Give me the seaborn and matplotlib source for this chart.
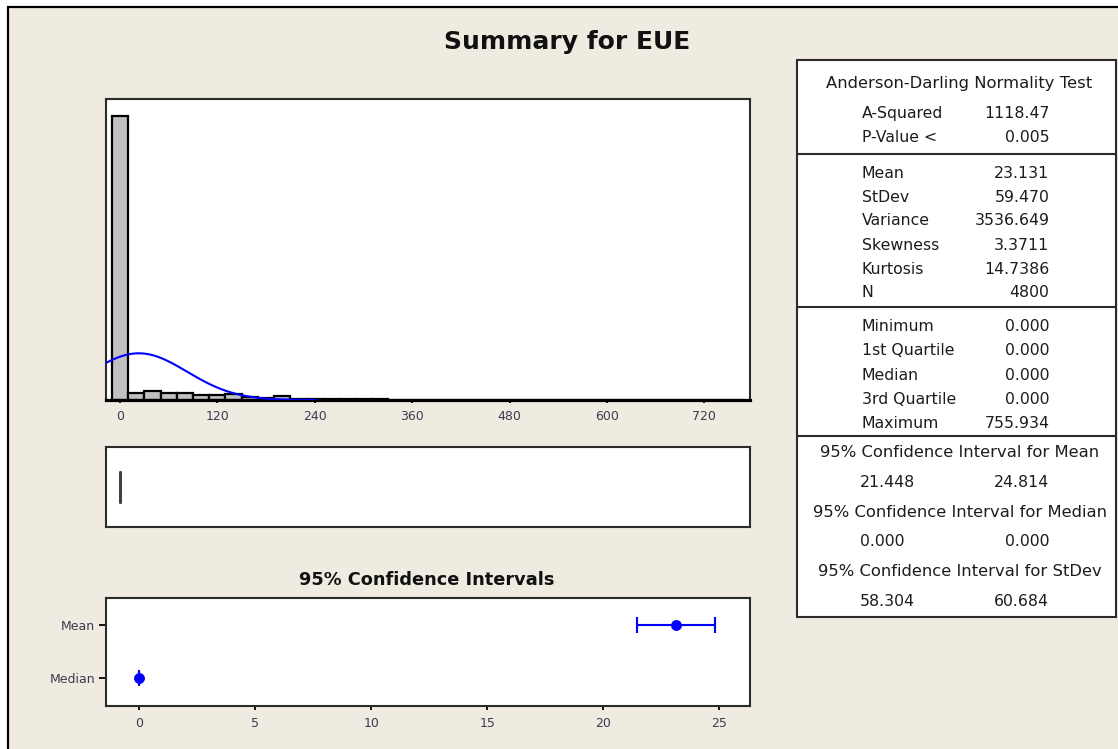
import numpy as np
import pandas as pd
import matplotlib
matplotlib.use("Agg")
import matplotlib.pyplot as plt
import seaborn as sns
from matplotlib.patches import Rectangle

# ---------------------------------------------------------------- data
# histogram of EUE: bin centres (width 20) and counts per bin
bin_centers = [0, 20, 40, 60, 80, 100, 120, 140, 160, 180, 200, 220, 240, 260,
               280, 300, 320, 340, 360, 380, 400, 420, 440, 460, 480, 500, 520,
               540, 560, 580, 600, 620, 640, 660, 680, 700, 720, 740, 760]
bin_counts = [3919, 100, 124, 100, 100, 69, 69, 83, 46, 28, 55, 14, 10, 12,
              8, 9, 7, 6, 6, 5, 4, 4, 3, 3, 2, 2, 2,
              1, 2, 1, 1, 1, 1, 0, 1, 0, 1, 0, 1]
bin_width = 20
hist_ticks = [0, 120, 240, 360, 480, 600, 720]

# descriptive statistics
mean_val = 23.131
stdev_val = 59.470
n_obs = 4800
q1_val, median_val, q3_val = 0.000, 0.000, 0.000

# 95% confidence intervals
ci_labels = ["Mean", "Median"]
ci_estimates = [23.131, 0.000]
ci_lower = [21.448, 0.000]
ci_upper = [24.814, 0.000]
ci_ticks = [0, 5, 10, 15, 20, 25]

# summary table text
ad_title = "Anderson-Darling Normality Test"
ad_labels = ["A-Squared", "P-Value <"]
ad_values = ["1118.47", "0.005"]
moment_labels = ["Mean", "StDev", "Variance", "Skewness", "Kurtosis", "N"]
moment_values = ["23.131", "59.470", "3536.649", "3.3711", "14.7386", "4800"]
order_labels = ["Minimum", "1st Quartile", "Median", "3rd Quartile", "Maximum"]
order_values = ["0.000", "0.000", "0.000", "0.000", "755.934"]
ci_titles = ["95% Confidence Interval for Mean",
             "95% Confidence Interval for Median",
             "95% Confidence Interval for StDev"]
ci_bounds = [("21.448", "24.814"), ("0.000", "0.000"), ("58.304", "60.684")]

# ---------------------------------------------------------------- style
W, H, DPI = 1118, 749, 100
BG = "#EFEBE1"
FRAME = "#2b2b2b"
TICK_TXT = "#3a3c50"
TXT = "#1c1c1c"

sns.set_theme(style="white")
plt.rcParams["font.family"] = ["DejaVu Sans"]

fig = plt.figure(figsize=(W / DPI, H / DPI), dpi=DPI, facecolor="white")


def px_rect(x0, y0, x1, y1):
    """Axes rectangle from pixel corners (origin top-left)."""
    return [x0 / W, 1 - y1 / H, (x1 - x0) / W, (y1 - y0) / H]


def frame(ax, lw=1.5):
    for s in ax.spines.values():
        s.set_visible(True)
        s.set_color(FRAME)
        s.set_linewidth(lw)
    ax.set_facecolor("white")


# background panel in pixel coordinates
bg = fig.add_axes([0, 0, 1, 1], zorder=-10)
bg.set_xlim(0, W)
bg.set_ylim(H, 0)
bg.axis("off")
bg.add_patch(Rectangle((8, 7), W, H, facecolor=BG, edgecolor="black", lw=1.6))

bg.text(567, 42, "Summary for EUE", ha="center", va="center",
        fontsize=18, fontweight="bold", color="#111111")

# ---------------------------------------------------------------- histogram
xlim_h = (-17.6, 776.3)
ax_h = fig.add_axes(px_rect(105.7, 99, 750, 400))
hist_df = pd.DataFrame({"EUE": bin_centers, "count": bin_counts})
edges = [c - bin_width / 2 for c in bin_centers] + [bin_centers[-1] + bin_width / 2]
sns.histplot(data=hist_df, x="EUE", weights="count", bins=edges,
             color="#C0C0C0", edgecolor="black", linewidth=1.6, alpha=1,
             ax=ax_h)

# fitted normal curve
xs = np.linspace(xlim_h[0], 242, 300)
pdf = n_obs * bin_width / (stdev_val * np.sqrt(2 * np.pi)) * \
    np.exp(-0.5 * ((xs - mean_val) / stdev_val) ** 2)
sns.lineplot(x=xs, y=pdf, color="#0000FF", lw=1.5, ax=ax_h, zorder=5)

ax_h.set_xlim(*xlim_h)
ax_h.set_ylim(0, 4149)
ax_h.set_xlabel("")
ax_h.set_ylabel("")
ax_h.set_yticks([])
ax_h.set_xticks(hist_ticks)
ax_h.set_xticklabels([str(t) for t in hist_ticks])
ax_h.tick_params(axis="x", bottom=True, direction="out", length=2.5, width=1.3,
                 color="black", pad=5, labelsize=9, labelcolor=TICK_TXT)
frame(ax_h)
# the outlines of the near-empty bins merge into a heavy baseline
ax_h.spines["bottom"].set_color("black")
ax_h.spines["bottom"].set_linewidth(2.3)

# ---------------------------------------------------------------- boxplot
ax_b = fig.add_axes(px_rect(105.7, 446.7, 750, 527.3))
box_stats = [{"med": median_val, "q1": q1_val, "q3": q3_val,
              "whislo": q1_val, "whishi": q3_val}]
box_kw = dict(positions=[0], widths=0.6, showfliers=False, showcaps=False,
              boxprops=dict(color="#404040", lw=2),
              medianprops=dict(color="#404040", lw=2),
              whiskerprops=dict(color="#404040", lw=2))
try:
    ax_b.bxp(box_stats, orientation="horizontal", **box_kw)
except TypeError:
    ax_b.bxp(box_stats, vert=False, **box_kw)
ax_b.set_xlim(*xlim_h)
ax_b.set_ylim(-0.82, 0.82)
ax_b.set_xticks([])
ax_b.set_yticks([])
frame(ax_b)

# ---------------------------------------------------------------- CI plot
bg.text(427, 580, "95% Confidence Intervals", ha="center", va="center",
        fontsize=12.8, fontweight="bold", color="#111111")

ax_c = fig.add_axes(px_rect(106, 597.7, 750, 706))
ypos = list(range(len(ci_labels)))
err_lo = [e - l for e, l in zip(ci_estimates, ci_lower)]
err_hi = [u - e for e, u in zip(ci_estimates, ci_upper)]
ax_c.errorbar(ci_estimates, ypos, xerr=[err_lo, err_hi], fmt="none",
              ecolor="#0000FF", elinewidth=1.5, capsize=5.8, capthick=1.5)
sns.scatterplot(x=ci_estimates, y=ypos, color="#0000FF", edgecolor="#0000FF",
                s=52, ax=ax_c, zorder=4)
ax_c.set_xlim(-1.435, 26.32)
ax_c.set_ylim(1.52, -0.512)
ax_c.set_xticks(ci_ticks)
ax_c.set_xticklabels([str(t) for t in ci_ticks])
ax_c.set_yticks(ypos)
ax_c.set_yticklabels(ci_labels)
ax_c.tick_params(axis="x", bottom=True, direction="out", length=3, width=1.3,
                 color="black", pad=5, labelsize=9, labelcolor=TICK_TXT)
ax_c.tick_params(axis="y", left=True, direction="out", length=5, width=1.3,
                 color="black", pad=3, labelsize=9, labelcolor=TICK_TXT)
frame(ax_c)

# ---------------------------------------------------------------- table
tx0, tx1 = 797.3, 1116
bg.add_patch(Rectangle((tx0, 60), tx1 - tx0, 616.7 - 60, facecolor="white",
                       edgecolor=FRAME, lw=1.5, zorder=2))
for ysep in (154, 307.3, 436):
    bg.plot([tx0, tx1], [ysep, ysep], color=FRAME, lw=1.5, zorder=3)

tfs = 11.3
hfs = 11.8
xl, xr, xc = 861.7, 1049.3, 959.5


def row(y, label, value):
    bg.text(xl, y, label, ha="left", va="center", fontsize=tfs, color=TXT, zorder=4)
    bg.text(xr, y, value, ha="right", va="center", fontsize=tfs, color=TXT, zorder=4)


bg.text(xc, 83.3, ad_title, ha="center", va="center", fontsize=hfs, color=TXT, zorder=4)
for y, l, v in zip([113.3, 137.3], ad_labels, ad_values):
    row(y, l, v)
for y, l, v in zip([173.3, 197.7, 220.7, 245, 269.3, 292.3], moment_labels, moment_values):
    row(y, l, v)
for y, l, v in zip([326.7, 350.7, 376, 399.3, 423.3], order_labels, order_values):
    row(y, l, v)
for (yt, yv), title, (lo, hi) in zip([(452.7, 482.7), (512.7, 541), (571.7, 601.7)],
                                     ci_titles, ci_bounds):
    bg.text(960, yt, title, ha="center", va="center", fontsize=hfs, color=TXT, zorder=4)
    bg.text(860, yv, lo, ha="left", va="center", fontsize=tfs, color=TXT, zorder=4)
    bg.text(xr, yv, hi, ha="right", va="center", fontsize=tfs, color=TXT, zorder=4)

fig.savefig("out.png", dpi=DPI, facecolor=fig.get_facecolor())
